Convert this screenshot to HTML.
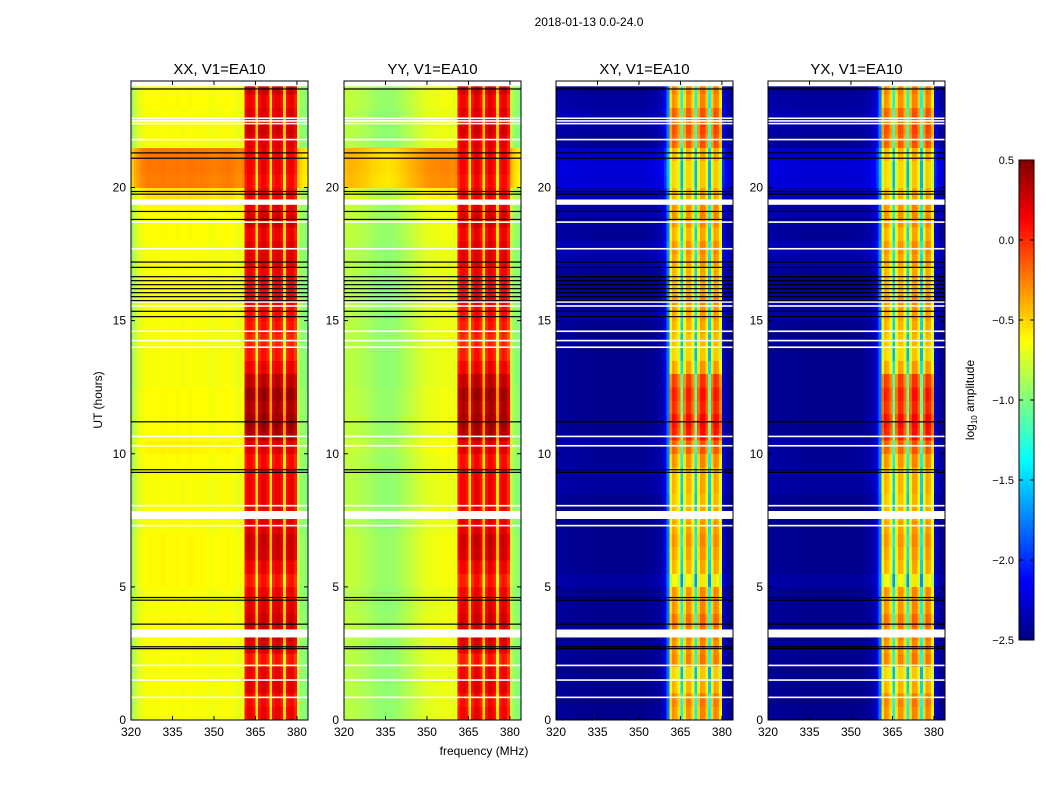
<!DOCTYPE html>
<html><head><meta charset="utf-8">
<style>
body{margin:0;background:#fff;}
svg{display:block;font-family:"Liberation Sans",sans-serif;}
</style></head>
<body>
<svg id="fig" width="1050" height="800" viewBox="0 0 1050 800" xmlns="http://www.w3.org/2000/svg">
<rect width="1050" height="800" fill="#fff"/>
<text x="589" y="26" font-size="12" text-anchor="middle">2018-01-13 0.0-24.0</text>
<text x="102" y="400" font-size="12" text-anchor="middle" transform="rotate(-90 102 400)">UT (hours)</text>
<text x="484" y="755" font-size="12" text-anchor="middle">frequency (MHz)</text>
<g id="panels"></g>
<g id="cbar"></g>
<text x="974" y="400" font-size="12" text-anchor="middle" transform="rotate(-90 974 400)">log<tspan font-size="8" dy="3">10</tspan><tspan dy="-3"> amplitude</tspan></text>
</svg>
<script>
const panelTitles = ["XX, V1=EA10","YY, V1=EA10","XY, V1=EA10","YX, V1=EA10"];
const xTicks = [320,335,350,365,380];
const yTicks = [0,5,10,15,20];
const cbTicks = [0.5,0.0,-0.5,-1.0,-1.5,-2.0,-2.5];
const freqStart = 320, nCols = 64;
const bandLo = 361, bandHi = 380;
const profXX = [-0.9,-0.8,-0.74,-0.7,-0.67,-0.65,-0.64,-0.64,-0.65,-0.64,-0.64,-0.63,-0.64,-0.65,-0.64,-0.64,-0.63,-0.64,-0.65,-0.65,-0.64,-0.63,-0.64,-0.64,-0.65,-0.64,-0.64,-0.65,-0.66,-0.67,-0.67,-0.66,-0.65,-0.65,-0.64,-0.64,-0.65,-0.67,-0.69,-0.69,-0.67,0.1,0.18,0.18,0.1,-0.55,0.1,0.2,0.2,0.1,-0.55,0.1,0.2,0.18,0.1,-0.55,0.1,0.18,0.18,0.05,-0.85,-0.92,-0.97,-1.0];
const profYY = [-0.85,-0.82,-0.82,-0.83,-0.84,-0.85,-0.86,-0.87,-0.88,-0.9,-0.92,-0.93,-0.94,-0.95,-0.95,-0.96,-0.96,-0.95,-0.94,-0.92,-0.9,-0.88,-0.86,-0.84,-0.82,-0.8,-0.78,-0.76,-0.74,-0.72,-0.71,-0.7,-0.7,-0.7,-0.69,-0.68,-0.68,-0.68,-0.69,-0.7,-0.68,0.05,0.15,0.15,0.08,-0.55,0.08,0.2,0.2,0.08,-0.55,0.08,0.2,0.18,0.08,-0.55,0.08,0.18,0.15,0.0,-0.8,-0.92,-0.97,-1.0];
const profXY = [-2.42,-2.42,-2.43,-2.43,-2.44,-2.44,-2.44,-2.45,-2.45,-2.45,-2.45,-2.46,-2.46,-2.46,-2.46,-2.46,-2.46,-2.46,-2.46,-2.46,-2.46,-2.46,-2.46,-2.46,-2.46,-2.46,-2.46,-2.46,-2.46,-2.46,-2.46,-2.46,-2.46,-2.45,-2.44,-2.43,-2.42,-2.4,-2.35,-2.2,-1.8,-0.65,-0.4,-0.45,-0.65,-1.5,-0.65,-0.4,-0.4,-0.65,-1.5,-0.6,-0.35,-0.35,-0.6,-1.5,-0.6,-0.35,-0.4,-0.7,-2.2,-2.4,-2.45,-2.45];
const profYX = [-2.42,-2.42,-2.43,-2.43,-2.44,-2.44,-2.44,-2.45,-2.45,-2.45,-2.45,-2.46,-2.46,-2.46,-2.46,-2.46,-2.46,-2.46,-2.46,-2.46,-2.46,-2.46,-2.46,-2.46,-2.46,-2.46,-2.46,-2.46,-2.46,-2.46,-2.46,-2.46,-2.46,-2.45,-2.44,-2.43,-2.42,-2.4,-2.35,-2.2,-1.8,-0.65,-0.4,-0.45,-0.65,-1.5,-0.65,-0.4,-0.4,-0.65,-1.5,-0.6,-0.35,-0.35,-0.6,-1.5,-0.6,-0.35,-0.4,-0.7,-2.2,-2.4,-2.45,-2.45];
// 48 half-hour rows, 0h at index 0
const rowLowAuto = [0,0,0,0,0,0,0.02,0.02,0,0,0.03,0.03,0.03,0.03,0,0,0,0,0,0.02,0.05,0.02,0.02,0.02,0.02,0,0,0,0,0,0,0,0,0,0,0,0.02,0.02,0.03,0.1,0.4,0.42,0.42,0,0,0,0.02,0.02];
const rowBandAuto = [0,-0.05,0.05,0,-0.1,0.05,0.1,0.1,0.05,0,-0.1,0,0.1,0.12,0.05,0,0,0,0,-0.05,0.05,0.2,0.25,0.2,0.25,0.15,0,-0.1,-0.15,-0.1,-0.05,0,-0.05,0,0.05,0.05,0,0.1,0.05,0,-0.05,0,0,0.05,0.1,0.05,0,0.1];
const rowLowX = [0,0,0,0,0,0,0,0,0,0,0.05,0,0,0,0,0,0,0.05,0.05,0.03,0.03,0,0,0,0,0,0,0,0,0,0.05,0.08,0.03,0,0.08,0.1,0.03,0.05,0.05,0.1,0.2,0.22,0.18,0.03,0.05,0.08,0.05,0.03];
const rowBandX = [0.1,0.15,0,-0.1,0.15,0.1,0.15,0.2,0.1,0.1,-0.2,0,0.05,0.1,0.05,0,-0.05,0,0,0.1,0.25,0.45,0.5,0.4,0.45,0.35,0.05,-0.1,-0.05,0,0.05,0.1,0,0,0.05,0.1,0,0.1,0.1,0,-0.1,-0.1,0,0.25,0.3,0.25,0.1,0.15];
const blackLines = [23.7,21.3,21.1,19.85,19.75,19.1,18.8,17.2,17.0,16.65,16.5,16.35,16.2,16.05,15.9,15.75,15.35,15.15,11.2,9.4,9.3,4.6,4.5,3.6,2.75,2.68];
const whiteLines = [22.6,22.5,22.4,21.8,18.7,17.7,15.7,15.55,14.6,14.25,14.0,10.65,10.3,8.05,7.3,2.05,1.5,0.85];
const whiteBandStarts = [23.8,19.35,7.55,3.1];
const whiteBandEnds = [24.0,19.55,7.85,3.4];
const profiles = [profXX,profYY,profXY,profYX];
const rowLows = [rowLowAuto,rowLowAuto,rowLowX,rowLowX];
const rowBands = [rowBandAuto,rowBandAuto,rowBandX,rowBandX];

const NS="http://www.w3.org/2000/svg";
const panelX=[131,344,556,768], PW=177, PT=81, PB=720;
const fMin=320, fMax=384, tMin=0, tMax=24;
function mk(tag,attrs,parent){const e=document.createElementNS(NS,tag);for(const k in attrs)e.setAttribute(k,attrs[k]);parent.appendChild(e);return e;}
function jet(v){let t=(v+2.5)/3;t=Math.max(0,Math.min(1,t));
 const r=Math.max(0,Math.min(1,1.5-Math.abs(4*t-3))),g=Math.max(0,Math.min(1,1.5-Math.abs(4*t-2))),b=Math.max(0,Math.min(1,1.5-Math.abs(4*t-1)));
 return `rgb(${Math.round(r*255)},${Math.round(g*255)},${Math.round(b*255)})`;}
const panelsG=document.getElementById('panels');
for(let p=0;p<4;p++){
 const x0=panelX[p];
 const xs=f=>x0+(f-fMin)/(fMax-fMin)*PW;
 const ys=t=>PB-(t-tMin)/(tMax-tMin)*(PB-PT);
 const g=mk('g',{},panelsG);
 
 
 const hm=mk('g',{'shape-rendering':'crispEdges'},g);
 
 
 const prof=profiles[p], rl=rowLows[p], rb=rowBands[p];
 for(let r=0;r<rl.length;r++){
  for(let c=0;c<prof.length;c++){
   const f=freqStart+c;
   const inBand=(f>=bandLo&&f<bandHi);
   const v=prof[c]+(inBand?rb[r]:rl[r]);
   const xa=xs(f),xb=xs(f+1),ya=ys(r*0.5+0.5),yb=ys(r*0.5);
   const cell=mk('rect',{x:xa.toFixed(2),y:ya.toFixed(2),width:(xb-xa+0.3).toFixed(2),height:(yb-ya+0.3).toFixed(2),fill:jet(v)},hm);
   
   
  }
 }
 for(let i=0;i<whiteBandStarts.length;i++){
  const wb=mk('rect',{x:x0,y:ys(whiteBandEnds[i]),width:PW,height:ys(whiteBandStarts[i])-ys(whiteBandEnds[i]),fill:'#fff'},g);
  
  
 }
 whiteLines.forEach(t=>{const l=mk('rect',{x:x0,y:ys(t)-0.8,width:PW,height:1.6,fill:'#fff'},g);
  
  });
 blackLines.forEach(t=>{const l=mk('rect',{x:x0,y:ys(t)-0.6,width:PW,height:1.2,fill:'#000'},g);
  
  });
 const fr=mk('rect',{x:x0,y:PT,width:PW,height:PB-PT,fill:'none',stroke:'#000','stroke-width':1},g);
 
 
 const tt=mk('text',{x:x0+PW/2,y:74,'font-size':15,'text-anchor':'middle'},g);
 tt.textContent=panelTitles[p];
 
 
 xTicks.forEach(f=>{const x=xs(f);
  mk('line',{x1:x,x2:x,y1:PB,y2:PB-4,stroke:'#000'},g);
  mk('line',{x1:x,x2:x,y1:PT,y2:PT+4,stroke:'#000'},g);
  const l=mk('text',{x:x,y:PB+16,'font-size':12,'text-anchor':'middle'},g);l.textContent=f;
  
  });
 yTicks.forEach(t=>{const y=ys(t);
  mk('line',{x1:x0,x2:x0+4,y1:y,y2:y,stroke:'#000'},g);
  mk('line',{x1:x0+PW,x2:x0+PW-4,y1:y,y2:y,stroke:'#000'},g);
  const l=mk('text',{x:x0-5,y:y+4,'font-size':12,'text-anchor':'end'},g);l.textContent=t;
  
  });
}
// colorbar
const cb=document.getElementById('cbar');
const cbx=1019,cbw=15,cbt=160,cbb=640,vMax=0.5,vMin=-2.5;
const cys=v=>cbb-(v-vMin)/(vMax-vMin)*(cbb-cbt);
for(let i=0;i<120;i++){const v0=vMin+i*(vMax-vMin)/120,v1=vMin+(i+1)*(vMax-vMin)/120;
 const s=mk('rect',{x:cbx,y:cys(v1),width:cbw,height:cys(v0)-cys(v1)+0.5,fill:jet((v0+v1)/2)},cb);
 
 }
mk('rect',{x:cbx,y:cbt,width:cbw,height:cbb-cbt,fill:'none',stroke:'#000'},cb);
cbTicks.forEach(v=>{const y=cys(v);
 mk('line',{x1:cbx,x2:cbx+4,y1:y,y2:y,stroke:'#000'},cb);
 mk('line',{x1:cbx+cbw,x2:cbx+cbw-4,y1:y,y2:y,stroke:'#000'},cb);
 const l=mk('text',{x:cbx-5,y:y+4,'font-size':11,'text-anchor':'end'},cb);
 l.textContent=(v<0?'\u2212':'')+Math.abs(v).toFixed(1);
 
 });
</script>
</body></html>
